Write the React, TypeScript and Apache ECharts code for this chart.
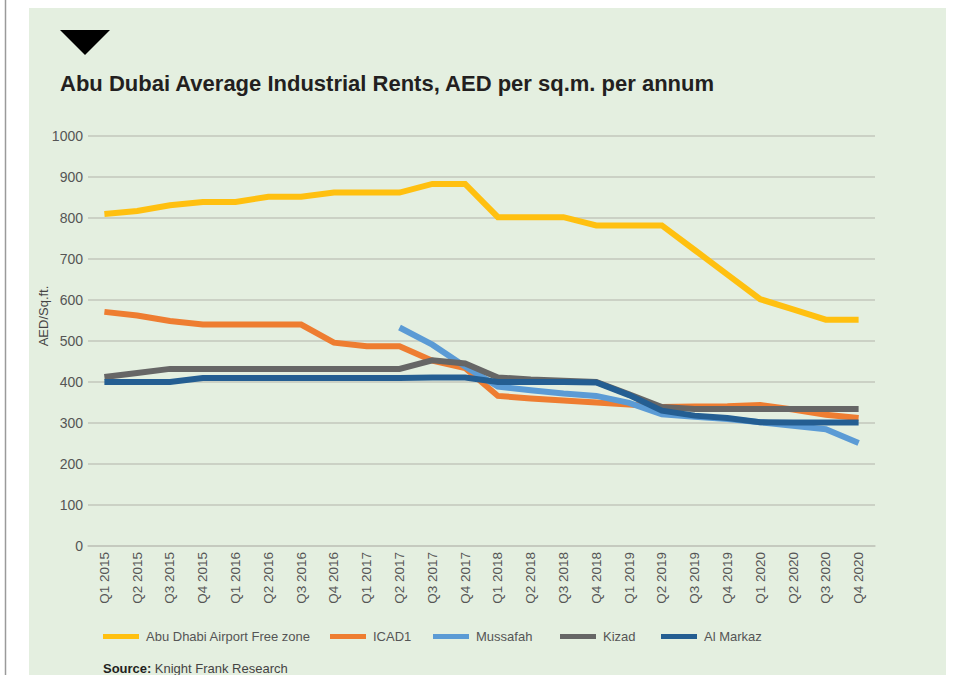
import React, { useEffect, useRef } from "react";
import * as echarts from "echarts";

const categories = [
  "Q1 2015", "Q2 2015", "Q3 2015", "Q4 2015",
  "Q1 2016", "Q2 2016", "Q3 2016", "Q4 2016",
  "Q1 2017", "Q2 2017", "Q3 2017", "Q4 2017",
  "Q1 2018", "Q2 2018", "Q3 2018", "Q4 2018",
  "Q1 2019", "Q2 2019", "Q3 2019", "Q4 2019",
  "Q1 2020", "Q2 2020", "Q3 2020", "Q4 2020",
];

const airportFreeZone = [810, 817, 831, 839, 839, 852, 852, 862, 862, 862, 883, 883, 802, 802, 802, 782, 782, 782, 722, 662, 602, 577, 552, 552];
const icad1 = [571, 562, 549, 540, 540, 540, 540, 496, 487, 487, 452, 434, 366, 360, 355, 350, 345, 339, 340, 341, 344, 333, 320, 312];
const mussafah = [null, null, null, null, null, null, null, null, null, 533, 491, 438, 389, 380, 372, 366, 349, 321, 315, 310, 302, 293, 285, 251];
const kizad = [412, 422, 432, 432, 432, 432, 432, 432, 432, 432, 453, 445, 411, 406, 403, 400, 370, 339, 334, 334, 334, 334, 334, 334];
const alMarkaz = [400, 400, 400, 410, 410, 410, 410, 410, 410, 410, 411, 411, 400, 400, 400, 399, 368, 330, 318, 312, 302, 301, 301, 301];

const yTicks = [0, 100, 200, 300, 400, 500, 600, 700, 800, 900, 1000];

const seriesNames = ["Abu Dhabi Airport Free zone", "ICAD1", "Mussafah", "Kizad", "Al Markaz"];
const seriesColors = ["#FFC010", "#EE7D31", "#5B9BD5", "#666666", "#245E92"];
const seriesData = [airportFreeZone, icad1, mussafah, kizad, alMarkaz];
const legendX = [103, 330, 433, 560, 661];

const FONT = "'Liberation Sans', Arial, sans-serif";

export default function App() {
  const ref = useRef<HTMLDivElement>(null);
  useEffect(() => {
    if (!ref.current) return;
    const chart = echarts.init(ref.current, null, { renderer: "svg" });
    chart.setOption({
      animation: false,
      backgroundColor: "#ffffff",
      textStyle: { fontFamily: FONT },
      graphic: [
        { type: "rect", z: -10, shape: { x: 29, y: 8, width: 917, height: 680 }, style: { fill: "#E4EFE0" }, silent: true },
        { type: "line", z: -10, shape: { x1: 5.5, y1: 0, x2: 5.5, y2: 675 }, style: { stroke: "#9a9a9a", lineWidth: 1.5 }, silent: true },
        { type: "polygon", shape: { points: [[60, 30], [110, 30], [85, 55]] }, style: { fill: "#000000" } },
        {
          type: "text", x: 60, y: 83,
          style: { text: "Abu Dubai Average Industrial Rents, AED per sq.m. per annum", font: `bold 22px ${FONT}`, fill: "#231f20", verticalAlign: "middle" },
        },
        {
          type: "text", x: 43, y: 316, rotation: Math.PI / 2,
          style: { text: "AED/Sq.ft.", font: `13px ${FONT}`, fill: "#444", align: "center", verticalAlign: "middle" },
        },
        {
          type: "text", x: 103, y: 668,
          style: {
            text: "{b|Source:} {n|Knight Frank Research}",
            verticalAlign: "middle",
            rich: {
              b: { font: `bold 13px ${FONT}`, fill: "#231f20" },
              n: { font: `13px ${FONT}`, fill: "#444" },
            },
          },
        },
      ],
      legend: seriesNames.map((n, i) => ({
        data: [n],
        left: legendX[i],
        top: 630,
        padding: 0,
        itemWidth: 36,
        itemHeight: 5,
        itemGap: 8,
        icon: "rect",
        textStyle: { fontSize: 13, color: "#555", fontFamily: FONT, padding: [0, 0, 0, 2] },
      })),
      grid: { left: 88, right: 79, top: 136, bottom: 129, containLabel: false },
      xAxis: {
        type: "category",
        data: categories,
        boundaryGap: true,
        axisLine: { show: true, lineStyle: { color: "#c3c7bd", width: 1.5 } },
        axisTick: { show: false },
        axisLabel: { rotate: 90, fontSize: 13.5, color: "#555", margin: 6, interval: 0, fontFamily: FONT },
      },
      yAxis: {
        type: "value",
        min: 0,
        max: 1000,
        interval: 100,
        axisLine: { show: false },
        axisTick: { show: false },
        axisLabel: { fontSize: 14, color: "#555", margin: 5, fontFamily: FONT, formatter: (v: number) => (yTicks.includes(v) ? String(v) : "") },
        splitLine: { lineStyle: { color: "#c3c7bd", width: 1.5 } },
      },
      series: seriesNames.map((n, i) => ({
        name: n,
        type: "line",
        data: seriesData[i],
        symbol: "none",
        connectNulls: false,
        itemStyle: { color: seriesColors[i] },
        lineStyle: { color: seriesColors[i], width: 6, join: "miter" },
      })),
    });
    return () => chart.dispose();
  }, []);
  return <div ref={ref} style={{ position: "fixed", left: 0, top: 0, width: 954, height: 675 }} />;
}
